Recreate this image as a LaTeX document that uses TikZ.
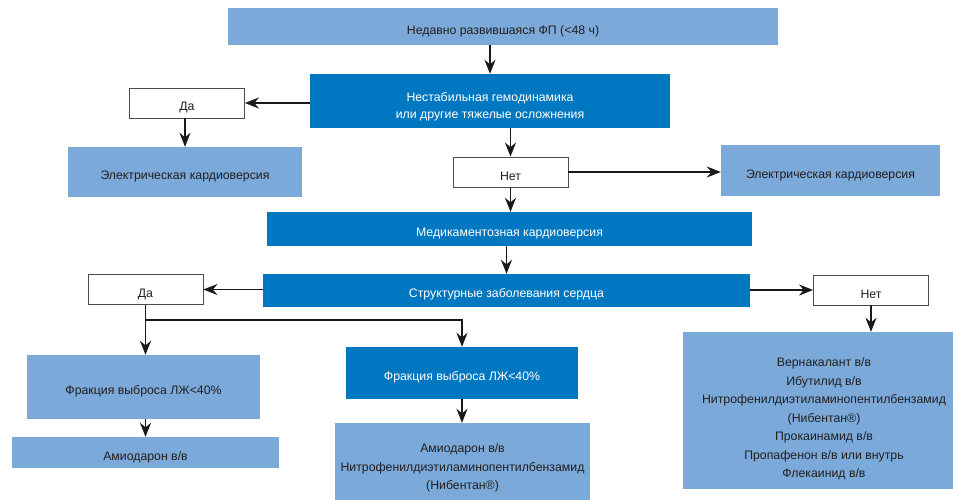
\documentclass[tikz,border=0pt]{standalone}
\usepackage{fontspec}
\setsansfont{Liberation Sans}
\usetikzlibrary{arrows.meta, positioning}

\definecolor{lightbox}{RGB}{123,169,217}
\definecolor{darkbox}{RGB}{0,120,193}
\definecolor{inktext}{RGB}{35,31,32}

\newcommand{\dropline}[1]{\rule{0pt}{#1}}

\begin{document}
\begin{tikzpicture}[
  x=1pt, y=-1pt,
  pale/.style={rectangle, fill=lightbox, inner sep=0pt, align=center,
               text=inktext, font=\sffamily\fontsize{12.3}{18.5}\selectfont,
               execute at begin node={\dropline{18pt}}},
  deep/.style={rectangle, fill=darkbox, inner sep=0pt, align=center,
               text=white, font=\sffamily\fontsize{12.3}{17}\selectfont,
               execute at begin node={\dropline{17pt}}},
  answer/.style={rectangle, draw=black!70, line width=0.8pt, fill=white,
                 inner sep=0pt, minimum width=115pt, minimum height=30pt,
                 text=inktext, font=\sffamily\fontsize{12.3}{14}\selectfont,
                 execute at begin node={\dropline{18pt}}},
  lines/.style={fill=none},
  arr/.style={line width=1.8pt, draw=black!90,
              -{Stealth[length=14pt, width=11pt]}},
]
\useasboundingbox (0,0) rectangle (953,499);

% ---- блоки ----
\node[pale, minimum width=550pt, minimum height=37pt] (onset) at (503,26.5)
  {Недавно развившаяся ФП (<48 ч)};

\node[deep, minimum width=360pt, minimum height=54pt] (unstable) at (490,101) {};
\node[deep, lines] (unstableText) at (490,106.5)
  {Нестабильная гемодинамика\\или другие тяжелые осложнения};

\node[answer] (yesA) at (187,103) {Да};

\node[pale, minimum width=234pt, minimum height=50pt] (ecvL) at (185,172)
  {Электрическая кардиоверсия};

\node[answer] (noA) at (510.5,172) {Нет};

\node[pale, minimum width=219pt, minimum height=51pt] (ecvR) at (830.5,170.5)
  {Электрическая кардиоверсия};

\node[deep, minimum width=485pt, minimum height=34pt] (pharm) at (509.5,229)
  {Медикаментозная кардиоверсия};

\node[deep, minimum width=487pt, minimum height=33pt] (struct) at (506.5,290.5)
  {Структурные заболевания сердца};

\node[answer] (yesB) at (145.5,289.5) {Да};

\node[answer] (noB) at (871,290) {Нет};

\node[pale, minimum width=233pt, minimum height=64pt] (efL) at (143.5,387)
  {Фракция выброса ЛЖ<40\%};

\node[deep, minimum width=232pt, minimum height=52pt] (efM) at (462,373)
  {Фракция выброса ЛЖ<40\%};

\node[pale, minimum width=267pt, minimum height=31pt] (amioL) at (145.5,452.5)
  {Амиодарон в/в};

\node[pale, minimum width=255pt, minimum height=86pt] (amioM) at (462.5,466) {};
\node[pale, lines] (amioMText) at (462.5,468)
  {Амиодарон в/в\\Нитрофенилдиэтиламинопентилбензамид\\(Нибентан®)};

\node[pale, minimum width=282pt, minimum height=157pt] (drugs) at (824,410.5) {};
\node[pale, lines] (drugsText) at (824,419)
  {Вернакалант в/в\\Ибутилид в/в\\Нитрофенилдиэтиламинопентилбензамид\\(Нибентан®)\\
   Прокаинамид в/в\\Пропафенон в/в или внутрь\\Флекаинид в/в};

\coordinate (fork) at (yesB.south |- 0,320);

% ---- стрелки ----
\draw[arr] (unstable.north |- onset.south) -- (unstable.north);
\draw[arr] (unstable.west |- yesA.east) -- (yesA.east);
\draw[arr] (yesA.south -| ecvL.north) -- (ecvL.north);
\draw[arr] (noA.north |- unstable.south) -- (noA.north);
\draw[arr] (noA.east) -- (ecvR.west |- noA.east);
\draw[arr] (noA.south) -- (noA.south |- pharm.north);
\draw[arr] (struct.north |- pharm.south) -- (struct.north);
\draw[arr] (struct.west |- yesB.east) -- (yesB.east);
\draw[arr] (struct.east |- noB.west) -- (noB.west);
\draw[arr] (noB.south) -- (noB.south |- drugs.north);
\draw[arr] (yesB.south) -- (yesB.south |- efL.north);
\draw[arr] (fork) -| (efM.north);
\draw[arr] (efL.south -| yesB.south) -- (yesB.south |- amioL.north);
\draw[arr] (efM.south) -- (efM.south |- amioM.north);

\end{tikzpicture}
\end{document}
